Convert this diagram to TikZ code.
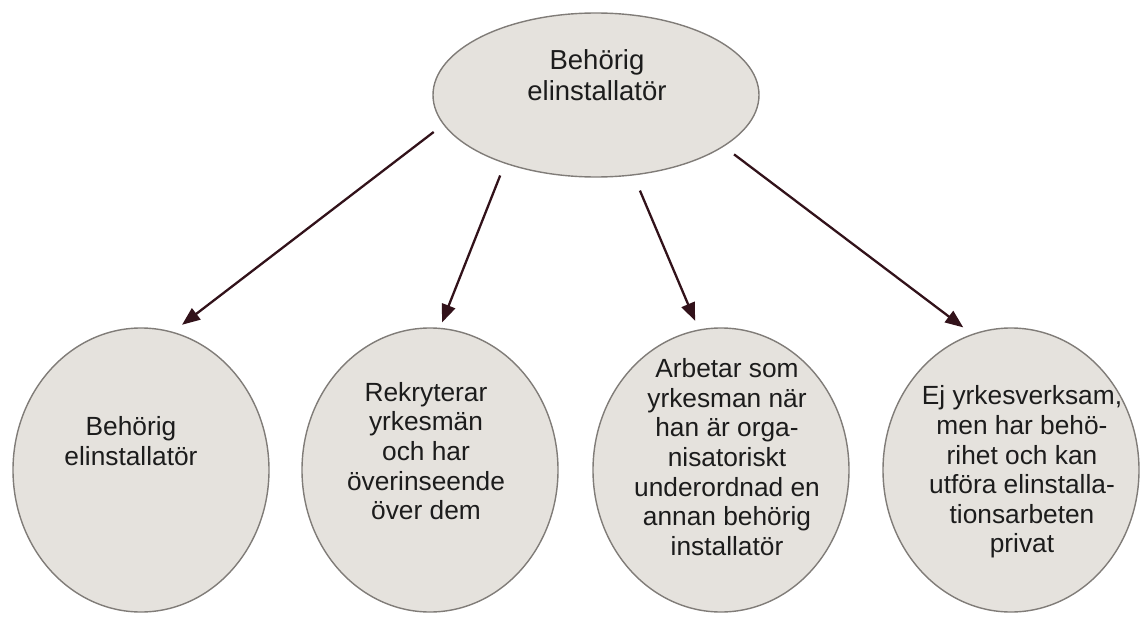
\documentclass[tikz,border=0pt]{standalone}
\usepackage{fontspec}
\setmainfont{Liberation Sans}
\usetikzlibrary{arrows.meta, shapes.geometric, positioning}
\definecolor{ellfyll}{RGB}{229,226,221}
\definecolor{ellkant}{RGB}{128,124,120}
\definecolor{pilfarg}{RGB}{50,18,26}
\definecolor{textfarg}{RGB}{28,28,28}
\tikzset{
    ellips/.style={ellipse, draw=ellkant, fill=ellfyll, line width=1.4pt, inner sep=0pt},
    liten/.style={ellips, minimum width=256pt, minimum height=284pt},
    etikett/.style={align=center, text=textfarg, inner sep=0pt, font=\fontsize{26.3}{29.6}\selectfont},
    pil/.style={draw=pilfarg, line width=2.3pt, -{Triangle[length=18pt, width=14pt, fill=pilfarg]}},
}
\begin{document}
\begin{tikzpicture}[x=1pt, y=-1pt]
\useasboundingbox (0,0) rectangle (1140,618);

% Överst: behörig elinstallatör
\node[ellips, minimum width=326pt, minimum height=164pt] (topp) at (596,95) {};
\node[etikett, font=\fontsize{27.5}{31}\selectfont] (ttopp) at (597,75) {Behörig\\elinstallatör};

% Nedre raden: fyra ellipser
\node[liten] (beh)  at (141,470) {};
\node[liten] (rekr) at (430,470) {};
\node[liten] (arb)  at (721,470) {};
\node[liten] (priv) at (1011,470) {};

\node[etikett] (tbeh)  at (131,441) {Behörig\\elinstallatör};
\node[etikett] (trekr) at (426,451) {Rekryterar\\yrkesmän\\och har\\överinseende\\över dem};
\node[etikett] (tarb)  at (727,457) {Arbetar som\\yrkesman när\\han är orga-\\nisatoriskt\\underordnad en\\annan behörig\\installatör};
\node[etikett] (tpriv) at (1022,472) {Ej yrkesverksam,\\men har behö-\\rihet och kan\\utföra elinstalla-\\tionsarbeten\\privat};

% Pilar
\draw[pil, shorten <=12pt, shorten >=11.5pt] (topp.191.9) -- (beh.77.8);
\draw[pil, shorten <=12.7pt, shorten >=5.7pt] (topp.217.1) -- (rekr.86.85);
\draw[pil, shorten <=16.4pt, shorten >=9.3pt] (topp.295.4) -- (arb.99.97);
\draw[pil, shorten <=12.8pt, shorten >=11pt] (topp.338.7) -- (priv.106.2);
\end{tikzpicture}
\end{document}
